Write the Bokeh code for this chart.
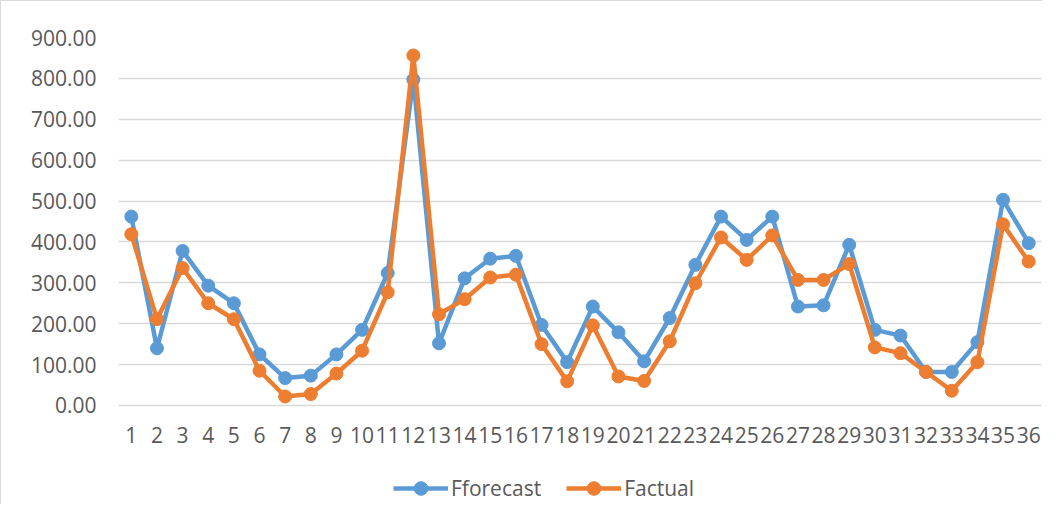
from bokeh.plotting import figure
from bokeh.models import FactorRange, Range1d, FixedTicker, NumeralTickFormatter, Legend, LegendItem
from bokeh.embed import file_html
from bokeh.resources import INLINE

categories = [str(i) for i in range(1, 37)]
forecast = [462, 140, 378, 293, 250, 125, 67, 73, 125, 185, 324, 797,
            152, 311, 359, 366, 197, 106, 242, 179, 108, 214, 344, 462,
            405, 462, 242, 245, 393, 185, 171, 82, 82, 155, 503, 397]
actual = [419, 211, 336, 250, 211, 85, 22, 28, 78, 134, 277, 856,
          223, 260, 313, 320, 150, 59, 196, 71, 60, 157, 299, 411,
          356, 416, 307, 307, 346, 142, 128, 82, 36, 106, 443, 352]
y_ticks = [0, 100, 200, 300, 400, 500, 600, 700, 800, 900]
series_names = ["Fforecast", "Factual"]
colors = ["#5B9BD5", "#ED7D31"]

FONT = "Open Sans"
TXT = "#595959"

# frame spans from the 900 gridline down to the bottom of the canvas;
# the category axis is pinned at y=0 so the legend can sit inside the frame
p = figure(width=1042, height=504, output_backend="svg", toolbar_location=None,
           x_range=FactorRange(*categories, range_padding=0), y_range=Range1d(-244.6, 900))
p.min_border_left = 117
p.min_border_right = 2
p.min_border_top = 36
p.min_border_bottom = 0
p.outline_line_color = None
p.background_fill_color = "white"
p.border_fill_color = "white"
p.styles = {"border-top": "1px solid #d9d9d9", "border-left": "1px solid #d9d9d9"}

renderers = []
for name, vals, c in zip(series_names, [forecast, actual], colors):
    l = p.line(categories, vals, line_color=c, line_width=4.5, line_join="round")
    s = p.scatter(categories, vals, size=13, fill_color=c, line_color=c)
    renderers.append([l, s])

p.xgrid.grid_line_color = None
p.ygrid.grid_line_color = "#d9d9d9"
p.ygrid.grid_line_width = 1.5

p.yaxis.ticker = FixedTicker(ticks=y_ticks)
p.yaxis.formatter = NumeralTickFormatter(format="0.00")
p.xaxis.fixed_location = 0
for ax in (p.xaxis[0], p.yaxis[0]):
    ax.axis_line_color = None
    ax.major_tick_line_color = None
    ax.minor_tick_line_color = None
    ax.major_tick_out = 0
    ax.major_tick_in = 0
    ax.major_label_text_font = FONT
    ax.major_label_text_font_size = "21px"
    ax.major_label_text_color = TXT
p.yaxis.major_label_standoff = 22
p.xaxis.major_label_standoff = 22
p.xaxis.group_text_font_size = "0px"

legend = Legend(items=[LegendItem(label=n, renderers=r) for n, r in zip(series_names, renderers)],
                orientation="horizontal", location=(275, 0))
legend.border_line_color = None
legend.background_fill_alpha = 0
legend.padding = 0
legend.margin = 0
legend.spacing = 25
legend.glyph_width = 55
legend.glyph_height = 34
legend.label_height = 34
legend.label_standoff = 3
legend.label_text_font = FONT
legend.label_text_font_size = "21px"
legend.label_text_color = TXT
p.add_layout(legend, "center")

open("out.html", "w").write(file_html(p, INLINE))
